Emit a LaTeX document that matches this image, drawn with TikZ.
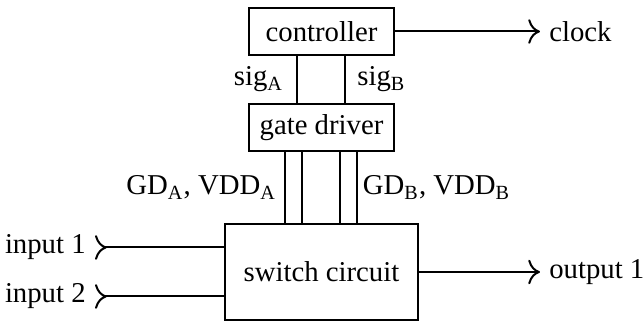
\documentclass[tikz,border=0pt]{standalone}
\usepackage{fontspec}
\setmainfont{Liberation Serif}
\usetikzlibrary{positioning,arrows.meta}

\begin{document}
\begin{tikzpicture}[thick,>={To[scale=1.4]},font=\fontsize{11.5}{13}\selectfont,
  block/.style={draw,minimum width=58pt,minimum height=18.8pt}]
\useasboundingbox (-128.6pt,-21.2pt) rectangle (129pt,108.8pt);
\node[block,minimum width=77.2pt,minimum height=38.4pt] (sw) at (0,0) {switch circuit};
\node[block] (gd) [above=28.4pt of sw] {gate driver};
\node[block] (ctrl) [above=18.8pt of gd] {controller};
\node (clock) [right=58pt of ctrl] {clock};
\node (out1) [right=48.4pt of sw] {output 1};
\coordinate (sw-in1) at ([yshift=9.8pt]sw.west);
\coordinate (sw-in2) at ([yshift=-9.8pt]sw.west);
\node (in1) [left=51.6pt of sw-in1] {input 1};
\node (in2) [left=51.6pt of sw-in2] {input 2};
% controller to gate driver
\draw ([xshift=-9.6pt]ctrl.south) -- ([xshift=-9.6pt]gd.north)
  node[midway,left=2pt] {sig\textsubscript{A}};
\draw ([xshift=9.6pt]ctrl.south) -- ([xshift=9.6pt]gd.north)
  node[midway,right=1pt] {sig\textsubscript{B}};
% gate driver to switch circuit
\draw ([xshift=-14.4pt]gd.south) -- ([xshift=-14.4pt]sw.north)
  node[midway,left] {GD\textsubscript{A}, VDD\textsubscript{A}};
\draw ([xshift=-7.6pt]gd.south) -- ([xshift=-7.6pt]sw.north);
\draw ([xshift=7.6pt]gd.south) -- ([xshift=7.6pt]sw.north);
\draw ([xshift=14.4pt]gd.south) -- ([xshift=14.4pt]sw.north)
  node[midway,right=-1.6pt] {GD\textsubscript{B}, VDD\textsubscript{B}};
% in and out
\draw[->] (ctrl) -- (clock);
\draw[->] (sw) -- (out1);
\draw[>-] (in1) -- (sw-in1);
\draw[>-] (in2) -- (sw-in2);
\end{tikzpicture}
\end{document}
